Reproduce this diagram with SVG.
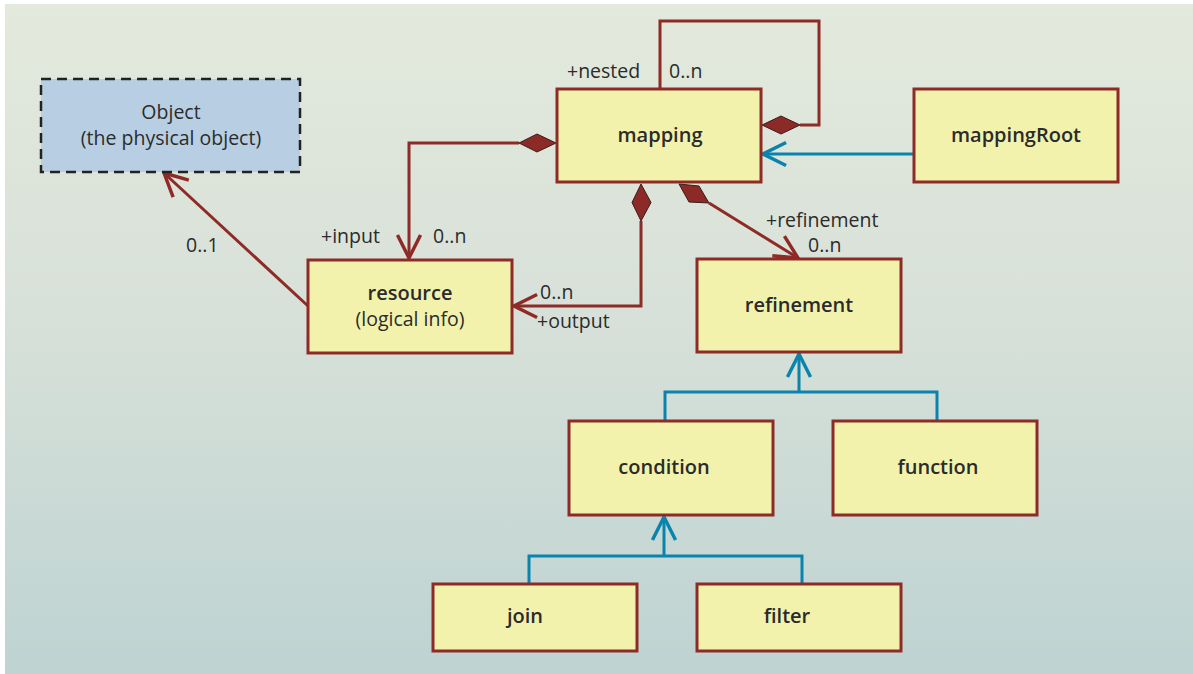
<svg xmlns="http://www.w3.org/2000/svg" width="1193" height="674" viewBox="0 0 1193 674">
<defs>
<linearGradient id="bg" x1="0" y1="0" x2="0" y2="1">
<stop offset="0" stop-color="#e3e9dc"/>
<stop offset="0.45" stop-color="#d8e1d9"/>
<stop offset="1" stop-color="#bed3d2"/>
</linearGradient>
<marker id="arrR" markerUnits="userSpaceOnUse" markerWidth="30" markerHeight="30" viewBox="-24 -12 26 24" refX="0" refY="0" orient="auto">
<path d="M -20 -10 L 0 0 L -20 10" fill="none" stroke="#8e2b26" stroke-width="3"/>
</marker>
<marker id="arrB" markerUnits="userSpaceOnUse" markerWidth="30" markerHeight="30" viewBox="-24 -12 26 24" refX="0" refY="0" orient="auto">
<path d="M -20 -10 L 0 0 L -20 10" fill="none" stroke="#0a83ad" stroke-width="3"/>
</marker>
<style>
.box{fill:#f3f2ad;stroke:#8e2b26;stroke-width:3}
.obj{fill:#b8cfe3;stroke:#222;stroke-width:2.5;stroke-dasharray:10 6}
.r{fill:none;stroke:#8e2b26;stroke-width:3}
.b{fill:none;stroke:#0a83ad;stroke-width:3}
.dia{fill:#8b2a26;stroke:#3a1c1a;stroke-width:1}
text{font-family:"Open Sans","Noto Sans",sans-serif;fill:#2b2b2b}
.t{font-size:20px;font-weight:600;text-anchor:middle}
.n{font-size:19.5px;text-anchor:middle}
.l{font-size:19.5px}
</style>
</defs>
<rect x="0" y="0" width="1193" height="674" fill="#ffffff"/>
<rect x="5" y="4" width="1188" height="670" fill="url(#bg)"/>

<g id="connectors">
<polyline class="r" points="660,89 660,21 819,21 819,125 800,125"/>
<polygon class="dia" points="762,125 781,116 800,125 781,134"/>
<polyline class="r" points="519,143 409,143 409,258" marker-end="url(#arrR)"/>
<polygon class="dia" points="556,143 537,134 519,143 537,152"/>
<polyline class="r" points="641,221 641,306 514,306" marker-end="url(#arrR)"/>
<polygon class="dia" points="641,184 651,202.5 641,221 632,202.5"/>
<line class="r" x1="709" y1="203" x2="798" y2="258" marker-end="url(#arrR)"/>
<polygon class="dia" points="679,184 699,186 709,203 689,202"/>
<line class="r" x1="308" y1="306" x2="164" y2="173" marker-end="url(#arrR)"/>
<line class="b" x1="914" y1="154" x2="763" y2="154" marker-end="url(#arrB)"/>
<polyline class="b" points="665,421 665,392 937,392 937,421"/>
<line class="b" x1="799" y1="392" x2="799" y2="354" marker-end="url(#arrB)"/>
<polyline class="b" points="529,584 529,556 802,556 802,584"/>
<line class="b" x1="664" y1="556" x2="664" y2="517" marker-end="url(#arrB)"/>
</g>

<g id="labels">
<text class="l" x="567" y="78">+nested</text>
<text class="l" x="669" y="78">0..n</text>
<text class="l" x="321" y="243">+input</text>
<text class="l" x="433" y="243">0..n</text>
<text class="l" x="186" y="252">0..1</text>
<text class="l" x="540" y="299">0..n</text>
<text class="l" x="537" y="328">+output</text>
<text class="l" x="766" y="227">+refinement</text>
<text class="l" x="808" y="252">0..n</text>
</g>

<g id="object">
<rect class="obj" x="41" y="79" width="259" height="93"/>
<text class="n" x="171" y="119">Object</text>
<text class="n" x="171" y="145">(the physical object)</text>
</g>
<g id="mapping">
<rect class="box" x="557" y="89" width="204" height="93"/>
<text class="t" x="660" y="142">mapping</text>
</g>
<g id="mappingRoot">
<rect class="box" x="914" y="89" width="204" height="93"/>
<text class="t" x="1016" y="142">mappingRoot</text>
</g>
<g id="resource">
<rect class="box" x="308" y="260" width="204" height="93"/>
<text class="t" x="410" y="300">resource</text>
<text class="n" x="410" y="326">(logical info)</text>
</g>
<g id="refinement">
<rect class="box" x="697" y="259" width="204" height="93"/>
<text class="t" x="799" y="312">refinement</text>
</g>
<g id="condition">
<rect class="box" x="569" y="421" width="204" height="94"/>
<text class="t" x="664" y="474">condition</text>
</g>
<g id="function">
<rect class="box" x="833" y="421" width="204" height="94"/>
<text class="t" x="938" y="474">function</text>
</g>
<g id="join">
<rect class="box" x="433" y="584" width="204" height="67"/>
<text class="t" x="525" y="623">join</text>
</g>
<g id="filter">
<rect class="box" x="697" y="584" width="204" height="67"/>
<text class="t" x="787" y="623">filter</text>
</g>
</svg>
